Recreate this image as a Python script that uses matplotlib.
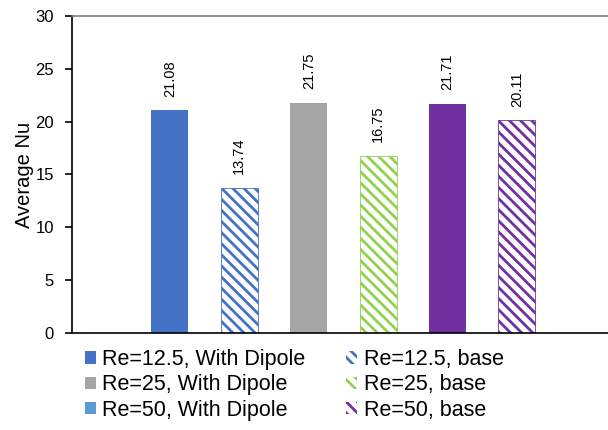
import matplotlib.pyplot as plt
from matplotlib.patches import Patch

plt.rcParams['font.family'] = ['Liberation Sans', 'DejaVu Sans']
plt.rcParams['hatch.linewidth'] = 2.0

# average Nusselt number per case
labels = ["Re=12.5, With Dipole", "Re=12.5, base",
          "Re=25, With Dipole", "Re=25, base",
          "Re=50, With Dipole", "Re=50, base"]
values = [21.08, 13.74, 21.75, 16.75, 21.71, 20.11]
colors = ["#4472C4", "#4472C4", "#A5A5A5", "#92D050", "#7030A0", "#7030A0"]
hatched = [False, True, False, True, False, True]
# swatch colours used in the legend
legend_colors = ["#4472C4", "#4472C4", "#A5A5A5", "#92D050", "#5B9BD5", "#7030A0"]

fig = plt.figure(figsize=(6.08, 4.30), dpi=100)
ax = fig.add_axes([0.1184, 0.2256, 0.893, 0.7372])

for i, (v, c, h) in enumerate(zip(values, colors, hatched)):
    if h:
        ax.bar(i, v, width=0.533, color="white", edgecolor=c,
               hatch="\\\\\\", linewidth=0.6)
    else:
        ax.bar(i, v, width=0.533, color=c, linewidth=0)
    ax.text(i, v + 1.3, f"{v:.2f}", rotation=90, ha="center", va="bottom",
            fontsize=10.5)

ax.set_xlim(-1.412, 6.412)
ax.set_ylim(0, 30)
ax.set_yticks(range(0, 31, 5))
ax.set_xticks([])
ax.tick_params(axis="y", labelsize=12, length=5, width=1.2, pad=8)
ax.set_ylabel("Average Nu", fontsize=14.5, labelpad=1)

ax.spines["right"].set_visible(False)
ax.spines["top"].set_color("#7f7f7f")
ax.spines["top"].set_linewidth(1.2)
ax.spines["left"].set_linewidth(1.2)
ax.spines["bottom"].set_linewidth(1.2)

handles = []
for c, h in zip(legend_colors, hatched):
    if h:
        handles.append(Patch(facecolor="white", edgecolor=c, hatch="\\\\\\", linewidth=0))
    else:
        handles.append(Patch(facecolor=c, linewidth=0))
# two columns: dipole cases on the left, base cases on the right
order = [0, 2, 4, 1, 3, 5]
fig.legend([handles[k] for k in order], [labels[k] for k in order],
           loc="upper left", bbox_to_anchor=(0.14, 0.188), ncol=2,
           frameon=False, fontsize=15.5, handlelength=0.5, handleheight=0.5,
           handletextpad=0.3, columnspacing=1.9, labelspacing=0.2,
           borderpad=0, borderaxespad=0)

fig.savefig("out.png", dpi=100)
